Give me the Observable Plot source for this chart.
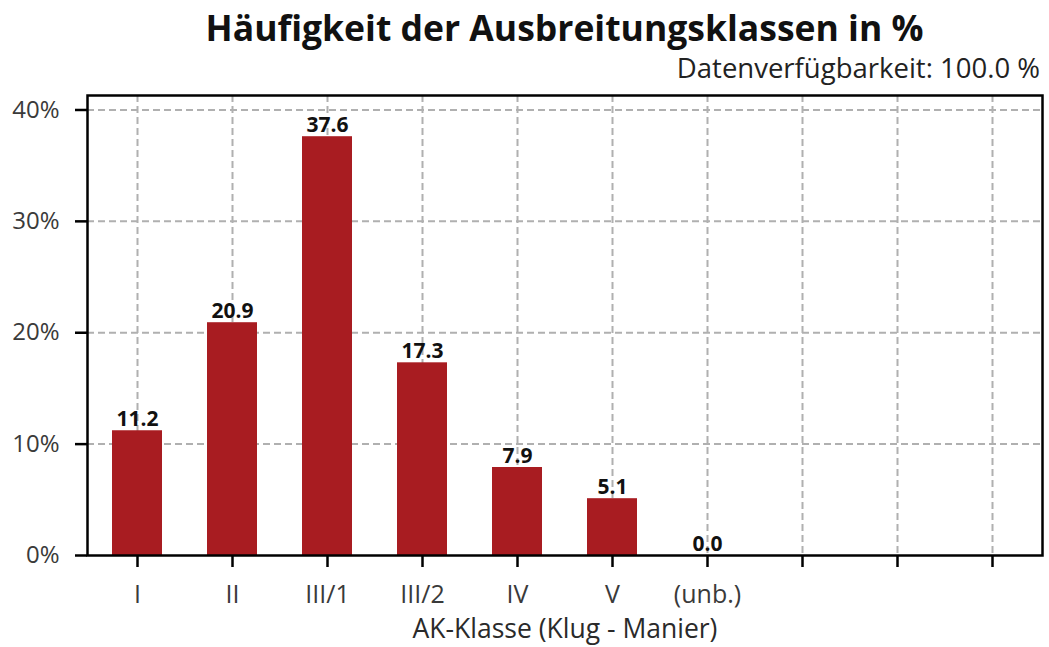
<!DOCTYPE html>
<html>
<head>
<meta charset="utf-8">
<script src="https://cdn.jsdelivr.net/npm/d3@7"></script>
<script src="https://cdn.jsdelivr.net/npm/@observablehq/plot@0.6"></script>
<style>
  body { margin: 0; background: #fff; font-family: "Open Sans", sans-serif; }
  #wrap { position: relative; width: 1049px; height: 647px; overflow: hidden; }
  #title { position: absolute; left: 87px; width: 955px; top: 10px; text-align: center;
           font-weight: bold; font-size: 35.5px; line-height: 1; color: #111; white-space: nowrap; }
  #subtitle { position: absolute; right: 9px; top: 54px; font-size: 27.5px; line-height: 1;
              color: #222; white-space: nowrap; }
  #chart { position: absolute; left: 0; top: 85px; }
</style>
</head>
<body>
<div id="wrap">
  <div id="title">Häufigkeit der Ausbreitungsklassen in %</div>
  <div id="subtitle">Datenverfügbarkeit: 100.0 %</div>
  <div id="chart"></div>
</div>
<script>
const categories = ["I", "II", "III/1", "III/2", "IV", "V", "(unb.)"];
const values = [11.2, 20.9, 37.6, 17.3, 7.9, 5.1, 0.0];
const emptySlots = [" ", "  ", "   "];
const yTicks = [0, 10, 20, 30, 40];
const xLabel = "AK-Klasse (Klug - Manier)";

const data = categories.map((c, i) => ({cat: c, value: values[i]}));
const domain = [...categories, ...emptySlots];

const barColor = "#a81c21";
const gridStyle = {stroke: "#b0b0b0", strokeOpacity: 1, strokeWidth: 2, strokeDasharray: "7,4"};

const chart = Plot.plot({
  width: 1049,
  height: 562,
  marginLeft: 87,
  marginRight: 7,
  marginTop: 10,
  marginBottom: 92,
  style: {fontFamily: "'Open Sans', sans-serif", color: "#333", background: "#fff"},
  x: {type: "band", domain, paddingInner: 0.47, paddingOuter: 0.215, align: 0.5},
  y: {domain: [0, 41.3]},
  marks: [
    Plot.gridY(yTicks.slice(1), gridStyle),
    Plot.gridX(domain, gridStyle),
    Plot.barY(data, {x: "cat", y: "value", fill: barColor}),
    Plot.text(data, {x: "cat", y: "value", text: d => d.value.toFixed(1), lineAnchor: "bottom",
      dy: -5, fontWeight: "bold", fontSize: 21, fill: "#111"}),
    Plot.frame({stroke: "#000", strokeWidth: 2.5}),
    Plot.axisY(yTicks, {tickFormat: d => d + "%", tickSize: 12, tickPadding: 16, fontSize: 24,
      stroke: "#000", strokeWidth: 2.5, fill: "#3a3a3a", label: null}),
    Plot.axisX(domain, {tickFormat: d => d.trim(), tickSize: 12, tickPadding: 18, fontSize: 25,
      stroke: "#000", strokeWidth: 2.5, fill: "#3a3a3a", label: null}),
    Plot.text([xLabel], {frameAnchor: "bottom", lineAnchor: "bottom", dy: 82, fontSize: 26.5,
      fill: "#2a2a2a", text: d => d})
  ]
});
document.getElementById("chart").appendChild(chart);
</script>
</body>
</html>
